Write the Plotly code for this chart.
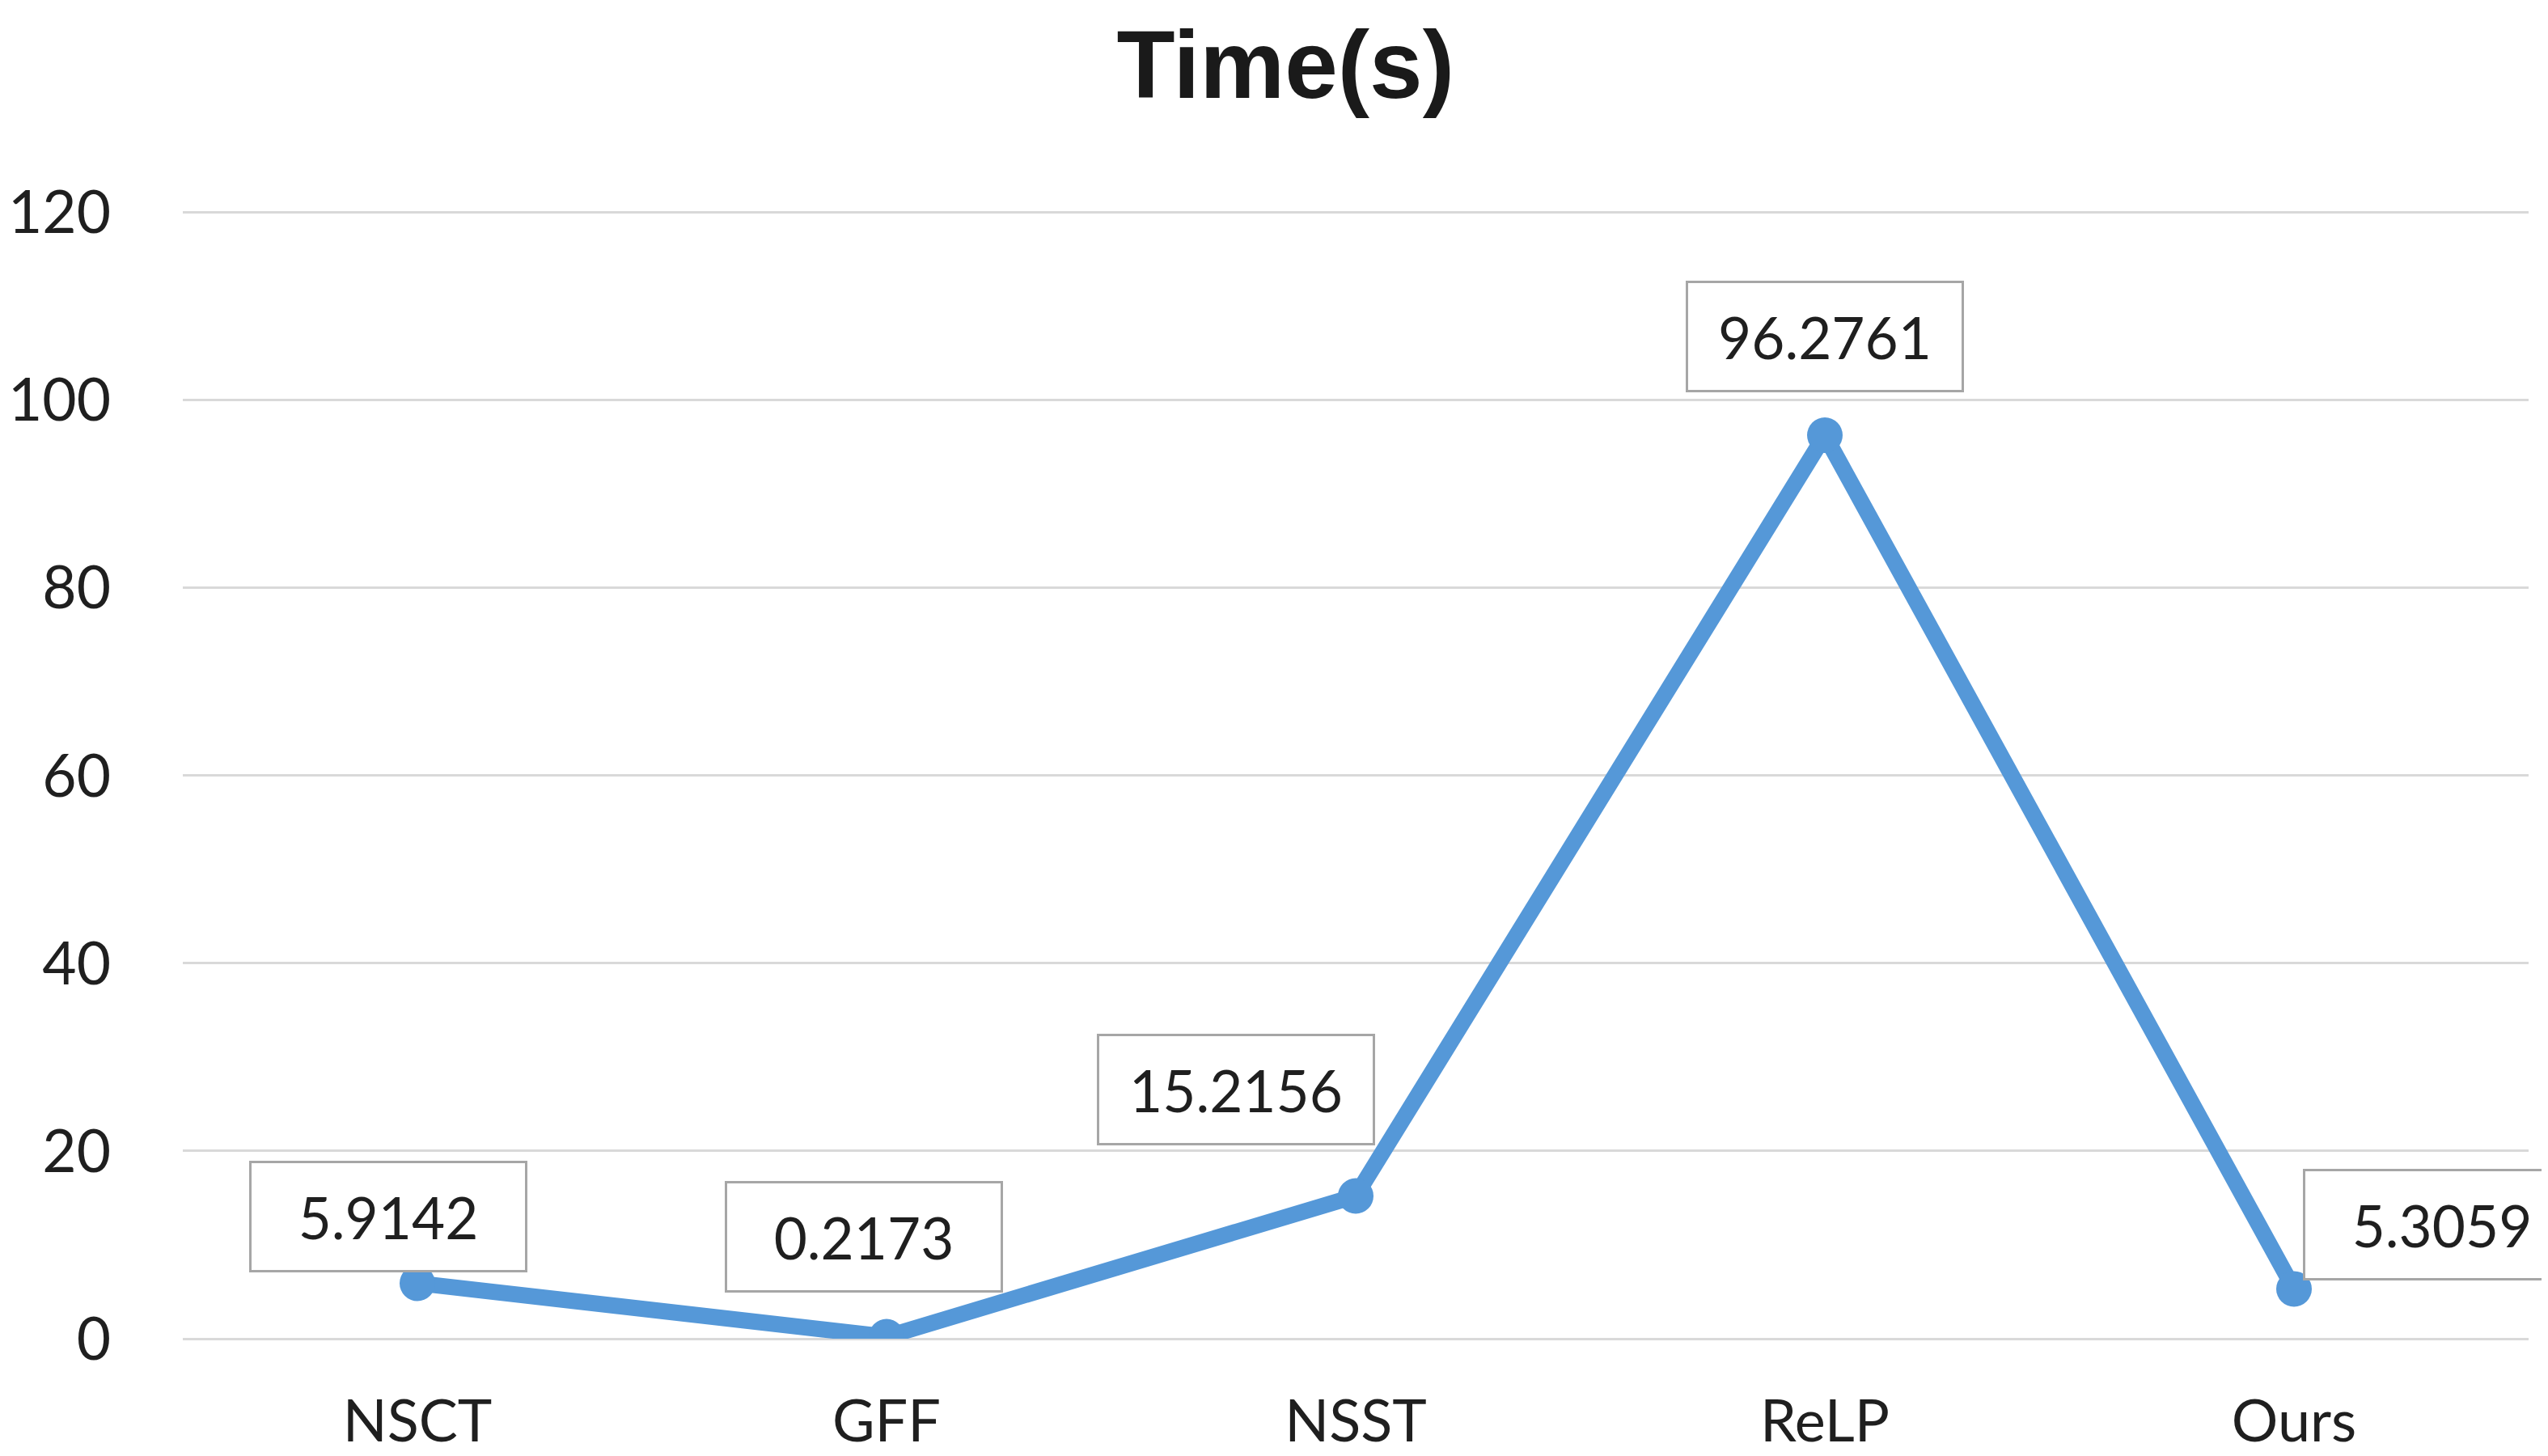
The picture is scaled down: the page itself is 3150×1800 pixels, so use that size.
import plotly.graph_objects as go

categories = ["NSCT", "GFF", "NSST", "ReLP", "Ours"]
times = [5.9142, 0.2173, 15.2156, 96.2761, 5.3059]
labels = ["5.9142", "0.2173", "15.2156", "96.2761", "5.3059"]
y_ticks = [0, 20, 40, 60, 80, 100, 120]

# label offsets in pixels (x, y) relative to each point
label_shift = [(-36, 82), (-28, 123), (-148, 131), (0, 122), (183, 79)]

FONT = "Lato, 'Open Sans', sans-serif"
TITLE_FONT = "'Liberation Sans', Arial, sans-serif"
LINE = "#5598D8"
TXT = "#1f1f1f"

fig = go.Figure()
fig.add_trace(go.Scatter(
    x=categories, y=times, mode="lines+markers",
    line=dict(color=LINE, width=20),
    marker=dict(color=LINE, size=44, symbol="circle"),
    showlegend=False, hoverinfo="skip",
))

for c, v, t, (dx, dy) in zip(categories, times, labels, label_shift):
    fig.add_annotation(
        x=c, y=v, text=t, showarrow=False, xshift=dx, yshift=dy,
        font=dict(family=FONT, size=71, color=TXT),
        bgcolor="white", bordercolor="#a6a6a6", borderwidth=3,
        width=322, height=116, borderpad=8,
    )

fig.update_layout(
    width=3150, height=1800,
    paper_bgcolor="white", plot_bgcolor="white",
    margin=dict(l=218, r=32, t=252, b=153, autoexpand=False),
    title=dict(text="<b>Time(s)</b>", x=0.502, xanchor="center",
               y=1 - 72 / 1800, yanchor="middle",
               font=dict(family=TITLE_FONT, size=118, color="#1a1a1a")),
    xaxis=dict(
        type="category", range=[-0.5, 4.5], showgrid=False, zeroline=False,
        showline=False, automargin=False,
        tickfont=dict(family=FONT, size=72, color=TXT),
        ticks="", ticklabelstandoff=54,
    ),
    yaxis=dict(
        range=[0, 120.25], tickvals=y_ticks, showgrid=True,
        gridcolor="#d9d9d9", gridwidth=3, zeroline=True,
        zerolinecolor="#d9d9d9", zerolinewidth=3, showline=False,
        automargin=False,
        tickfont=dict(family=FONT, size=73, color=TXT),
        ticks="", ticklabelstandoff=88,
    ),
)

fig.write_html("out.html")
